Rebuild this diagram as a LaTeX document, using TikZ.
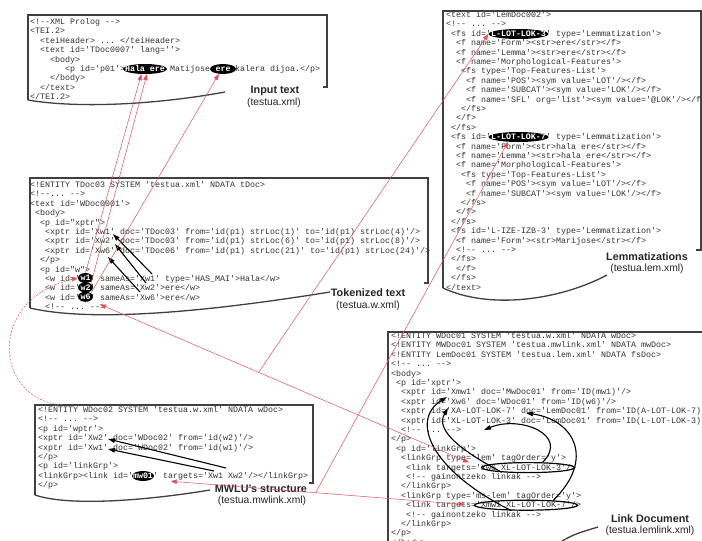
\documentclass[tikz,border=0pt]{standalone}
\usepackage{fontspec}
\setmainfont{Liberation Sans}
\setmonofont{Liberation Mono}
\usetikzlibrary{shapes.geometric,arrows.meta}

\definecolor{linkred}{HTML}{E4505A}
\definecolor{codegray}{HTML}{333333}
\newcommand{\indt}[1]{\hspace*{#1\dimexpr 0.6em\relax}}
\newcommand{\hw}[1]{\makebox[0pt]{#1}}

\tikzset{
  code/.style={anchor=north west, inner sep=0pt, align=left, text=codegray,
    font=\ttfamily\fontsize{8.33}{9.4}\selectfont},
  frame/.style={draw=black!75, line width=1.3pt},
  hl/.style={ellipse, fill=black, text=white, inner sep=0pt, minimum height=10pt,
    minimum width=#1, font=\ttfamily\bfseries\fontsize{8.33}{9.4}\selectfont},
  ring/.style={ellipse, draw=black, line width=1.2pt, inner sep=0pt,
    minimum height=10pt, minimum width=#1},
  title/.style={font=\bfseries\fontsize{10.8}{12}\selectfont, text=black!85},
  subtitle/.style={font=\fontsize{10.3}{12}\selectfont, text=black!85},
  redlink/.style={draw=linkred, line width=0.5pt, -{Triangle[length=6pt,width=4.5pt]}},
  redboth/.style={draw=linkred, line width=0.5pt, {Triangle[length=6pt,width=4.5pt]}-{Triangle[length=6pt,width=4.5pt]}},
  blacklink/.style={draw=black, line width=1.1pt, -{Triangle[length=7pt,width=4.5pt]}}
}

\begin{document}
\begin{tikzpicture}[x=1pt, y=-1pt]
\useasboundingbox[fill=white] (0,0) rectangle (702,541);

% Input text
\draw[frame] (28,100) -- (28,15) -- (327,15) -- (327,87) -- (323,87);
\draw[frame] (28,100) .. controls (80,109) and (160,104) .. (225,92);
\node[code] (inputcode) at (30,17.3) {\rule{0pt}{7pt}<!--XML Prolog -->\\
<TEI.2>\\
\indt{2}<teiHeader> ... </teiHeader>\\
\indt{2}<text id='TDoc0007' lang=''>\\
\indt{4}<body>\\
\indt{7}<p id='p01'>Hala ere Matijose ere kalera dijoa.</p>\\
\indt{4}</body>\\
\indt{2}</text>\\
</TEI.2>};
\node[hl=44pt] (hala) at (145,69) {\hw{Hala ere}};
\node[hl=26pt] (ere) at (223,69) {\hw{ere}};
\node[title] (inputtitle) at (275,91) {Input text};
\node[subtitle] (inputfile) at (274,103) {(testua.xml)};

% Lemmatizations
\draw[frame] (443,288) -- (443,11) -- (704,11);
\draw[frame] (701,11) -- (701,250) -- (696,250);
\draw[frame] (443,288) .. controls (490,310) and (560,300) .. (607,275);
\node[code] (lemcode) at (446,10.3) {\rule{0pt}{7pt}<text id='LemDoc002'>\\
<!-- ... -->\\
\indt1<fs id='L-LOT-LOK-3' type='Lemmatization'>\\
\indt2<f name='Form'><str>ere</str></f>\\
\indt2<f name='Lemma'><str>ere</str></f>\\
\indt2<f name='Morphological-Features'>\\
\indt3<fs type='Top-Features-List'>\\
\indt4<f name='POS'><sym value='LOT'/></f>\\
\indt4<f name='SUBCAT'><sym value='LOK'/></f>\\
\indt4<f name='SFL' org='list'><sym value='@LOK'/></f>\\
\indt3</fs>\\
\indt2</f>\\
\indt1</fs>\\
\indt1<fs id='L-LOT-LOK-7' type='Lemmatization'>\\
\indt2<f name='Form'><str>hala ere</str></f>\\
\indt2<f name='Lemma'><str>hala ere</str></f>\\
\indt2<f name='Morphological-Features'>\\
\indt3<fs type='Top-Features-List'>\\
\indt4<f name='POS'><sym value='LOT'/></f>\\
\indt4<f name='SUBCAT'><sym value='LOK'/></f>\\
\indt3</fs>\\
\indt2</f>\\
\indt1</fs>\\
\indt1<fs id='L-IZE-IZB-3' type='Lemmatization'>\\
\indt2<f name='Form'><str>Marijose</str></f>\\
\indt2<!-- ... -->\\
\indt1</fs>\\
\indt2</f>\\
\indt1</fs>\\
</text>};
\node[hl=60pt] (lok3) at (518.5,34) {\hw{L-LOT-LOK-3}};
\node[hl=60pt] (lok7) at (518.5,137) {\hw{L-LOT-LOK-7}};
\node[title] (lemtitle) at (647,257) {Lemmatizations};
\node[subtitle] (lemfile) at (647,269) {(testua.lem.xml)};

% Tokenized text
\draw[frame] (30,308) -- (30,178) -- (428,178) -- (428,283) -- (424,283);
\draw[frame] (30,308) .. controls (90,322) and (200,313) .. (330,292);
\node[code] (tokcode) at (30,180.3) {\rule{0pt}{7pt}<!ENTITY TDoc03 SYSTEM 'testua.xml' NDATA tDoc>\\
<!--... -->\\
<text id='WDoc0001'>\\
\indt1<body>\\
\indt2<p id="xptr">\\
\indt3<xptr id='Xw1' doc='TDoc03' from='id(p1) strLoc(1)' to='id(p1) strLoc(4)'/>\\
\indt3<xptr id='Xw2' doc='TDoc03' from='id(p1) strLoc(6)' to='id(p1) strLoc(8)'/>\\
\indt3<xptr id='Xw6' doc='TDoc06' from='id(p1) strLoc(21)' to='id(p1) strLoc(24)'/>\\
\indt2</p>\\
\indt2<p id="w">\\
\indt3<w id='w1' sameAs='Xw1' type='HAS\_MAI'>Hala</w>\\
\indt3<w id='w2' sameAs='Xw2'>ere</w>\\
\indt3<w id='w6' sameAs='Xw6'>ere</w>\\
\indt3<!-- ... -->};
\node[hl=15pt] (w1) at (85.5,278) {\hw{w1}};
\node[hl=15pt] (w2) at (85.5,287.4) {\hw{w2}};
\node[hl=15pt] (w6) at (85.5,296.8) {\hw{w6}};
\coordinate (xw1) at (113,234);
\coordinate (xw2) at (115,244);
\coordinate (xw6) at (108,257);
\coordinate (sxw1) at (152,274);
\coordinate (sxw2) at (146,283);
\coordinate (sxw6) at (140,292);
\node[title] (toktitle) at (368,293) {Tokenized text};
\node[subtitle] (tokfile) at (368,306) {(testua.w.xml)};

% MWLU structure
\draw[frame] (35,495) -- (35,405) -- (313,405) -- (313,483) -- (309,483);
\draw[frame] (35,495) .. controls (70,507) and (150,500) .. (210,490);
\node[code] (mwcode) at (38,405.3) {\rule{0pt}{7pt}<!ENTITY WDoc02 SYSTEM 'testua.w.xml' NDATA wDoc>\\
<!-- ... -->\\
<p id='wptr'>\\
<xptr id='Xw2' doc='WDoc02' from='id(w2)'/>\\
<xptr id='Xw1' doc='WDoc02' from='id(w1)'/>\\
</p>\\
<p id='linkGrp'>\\
<linkGrp><link id='mw01' targets='Xw1 Xw2'/></linkGrp>\\
</p>};
\node[hl=22pt] (mw01) at (143,476) {\hw{mw01}};
\coordinate (mxw2) at (108,439);
\coordinate (mxw1) at (108,449);
\coordinate (tmxw2) at (226,468);
\coordinate (tmxw1) at (214,471);
\coordinate (mwcorner) at (62,405);
\node[title] (mwtitle) at (261,489) {MWLU's structure};
\node[subtitle] (mwfile) at (262,501) {(testua.mwlink.xml)};

% Link document
\draw[frame] (388,545) -- (388,332) -- (704,332);
\draw[frame] (562,541) .. controls (575,534) .. (598,527);
\node[code] (linkcode) at (391,331.3) {\rule{0pt}{7pt}<!ENTITY WDoc01 SYSTEM 'testua.w.xml' NDATA wDoc>\\
<!ENTITY MWDoc01 SYSTEM 'testua.mwlink.xml' NDATA mwDoc>\\
<!ENTITY LemDoc01 SYSTEM 'testua.lem.xml' NDATA fsDoc>\\
<!-- ... -->\\
<body>\\
\indt1<p id='xptr'>\\
\indt2<xptr id='Xmw1' doc='MwDoc01' from='ID(mw1)'/>\\
\indt2<xptr id='Xw6' doc='WDoc01' from='ID(w6)'/>\\
\indt2<xptr id='XA-LOT-LOK-7' doc='LemDoc01' from='ID(A-LOT-LOK-7)'/>\\
\indt2<xptr id='XL-LOT-LOK-3' doc='LemDoc01' from='ID(L-LOT-LOK-3)'/>\\
\indt2<!-- ... -->\\
</p>\\
\indt1<p id='linkGrp'>\\
\indt2<linkGrp type='lem' tagOrder='y'>\\
\indt3<link targets='Xw6 XL-LOT-LOK-3'/>\\
\indt3<!-- gainontzeko linkak -->\\
\indt2</linkGrp>\\
\indt2<linkGrp type='ms-lem' tagOrder='y'>\\
\indt3<link targets='Xmw1 XL-LOT-LOK-7'/>\\
\indt3<!-- gainontzeko linkak -->\\
\indt2</linkGrp>\\
</p>\\
</body>};
\node[ring=93pt] (ring1) at (528,467.6) {};
\node[ring=103pt] (ring2) at (526,505.2) {};
\coordinate (lxmw1) at (447,397);
\coordinate (lxw6) at (448,408);
\coordinate (lxa7) at (526,413);
\coordinate (lxl3) at (484,430);
\node[title] (linktitle) at (650,519) {Link Document};
\node[subtitle] (linkfile) at (650,531) {(testua.lemlink.xml)};

% black references
\draw[blacklink] (sxw1) -- (xw1);
\draw[blacklink] (sxw2) -- (xw2);
\draw[blacklink] (sxw6) -- (xw6);
\draw[blacklink] (tmxw2) -- (mxw2);
\draw[blacklink] (tmxw1) -- (mxw1);
\draw[blacklink] (ring2.200) .. controls (430,470) and (410,420) .. (lxmw1);
\draw[blacklink] (ring1.190) .. controls (460,450) and (435,430) .. (lxw6);
\draw[blacklink] (ring1.20) .. controls (570,435) and (520,415) .. (lxl3);
\draw[blacklink] (ring2.10) .. controls (595,460) and (575,420) .. (lxa7);

% red links
\draw[redlink] (w1.north) -- (hala.235);
\draw[redlink] (w2.north east) -- (hala.290);
\draw[redlink] (w6.north east) -- (ere.230);
\draw[redboth, shorten <=10pt, shorten >=13pt] (w6.south east) -- coordinate[pos=0.43] (wbranch) (ring1.west);
\draw[redboth, shorten <=20pt, shorten >=9pt] (mw01.south east) -- coordinate[pos=0.51] (mwbranch) (ring2.west);
\draw[redlink] (wbranch) -- (lok3.west);
\draw[redlink] (mwbranch) -- (lok7.205);
\draw[redlink, dash pattern=on 2pt off 1.5pt] (mwcorner) .. controls (-5,400) and (-15,300) .. (w1.west);
\end{tikzpicture}
\end{document}
